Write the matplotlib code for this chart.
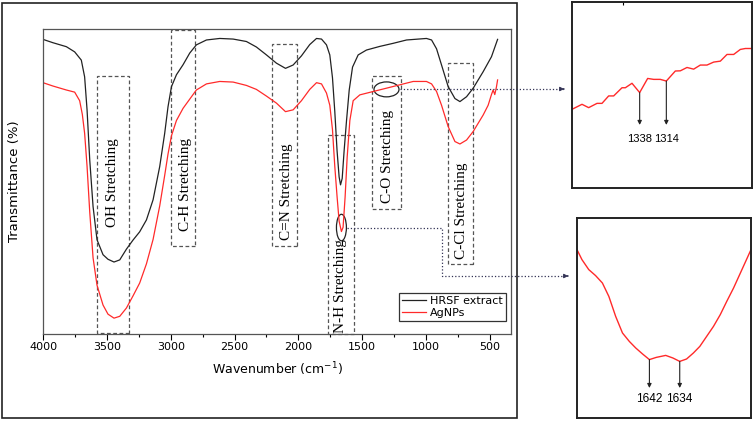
import matplotlib.pyplot as plt
import numpy as np
from matplotlib.patches import Rectangle, Ellipse

# main spectra (wavenumber, transmittance in arbitrary %)
wn_hrsf = [4000, 3922, 3817, 3752, 3700, 3674, 3655, 3634, 3608, 3577, 3530, 3491, 3444, 3399,
           3347, 3295, 3243, 3190, 3138, 3086, 3047, 3021, 2994, 2955, 2903, 2851, 2799, 2720,
           2616, 2511, 2407, 2329, 2250, 2172, 2101, 2041, 1976, 1911, 1858, 1819, 1780, 1754,
           1733, 1715, 1697, 1681, 1670, 1657, 1642, 1623, 1602, 1576, 1532, 1467, 1362, 1258,
           1153, 997, 957, 918, 879, 827, 774, 735, 683, 631, 553, 488, 440]
t_hrsf = [96.6, 95.5, 94.2, 92.5, 89.8, 84.3, 73.5, 57.1, 41.8, 30.9, 26.0, 24.5, 23.6, 24.3,
          27.8, 30.8, 33.5, 37.4, 44.0, 54.9, 65.8, 74.5, 81.1, 85.0, 88.3, 92.1, 94.8, 96.4,
          96.9, 96.7, 95.9, 94.1, 91.5, 88.8, 87.1, 88.2, 91.2, 94.9, 96.9, 96.7, 94.8, 91.5,
          84.0, 73.0, 60.0, 51.5, 48.9, 51.0, 60.0, 70.0, 80.0, 87.5, 91.5, 93.1, 94.3, 95.3,
          96.4, 96.9, 96.4, 93.5, 88.2, 81.1, 77.2, 76.2, 77.8, 80.6, 86.0, 90.9, 96.6]

wn_ag = [4000, 3922, 3817, 3752, 3713, 3692, 3674, 3655, 3634, 3608, 3577, 3530, 3491, 3444,
         3399, 3347, 3295, 3243, 3190, 3138, 3086, 3047, 3021, 2994, 2955, 2903, 2851, 2799,
         2720, 2616, 2511, 2407, 2329, 2250, 2172, 2101, 2041, 1976, 1911, 1858, 1819, 1780,
         1754, 1733, 1715, 1697, 1681, 1663, 1650, 1634, 1618, 1597, 1571, 1519, 1415, 1310,
         1206, 1101, 997, 957, 918, 879, 827, 774, 735, 683, 631, 553, 514, 488, 475, 462, 449, 440]
t_ag = [82.4, 81.3, 80.0, 79.3, 76.5, 72.0, 65.8, 55.0, 40.0, 25.0, 16.0, 9.5, 6.5, 5.2,
        5.8, 8.5, 12.5, 16.7, 23.0, 31.0, 42.0, 52.0, 59.0, 65.0, 70.0, 74.0, 77.0, 80.0,
        82.0, 82.8, 82.6, 81.5, 80.2, 78.0, 75.7, 72.9, 73.5, 76.5, 80.2, 82.4, 82.0, 79.0,
        75.0, 67.0, 55.0, 45.0, 37.0, 33.6, 35.0, 45.0, 58.0, 70.0, 76.5, 78.4, 79.5, 80.6,
        81.7, 82.8, 82.8, 82.0, 79.5, 75.0, 68.0, 63.1, 62.3, 63.6, 66.4, 71.8, 75.0, 78.5,
        80.0, 78.5, 81.0, 83.3]

# band boxes: label, wn_left, wn_right, t_bottom, t_top, label_wn, label_t
bands = [("OH Stretching", 3577, 3329, 0.3, 84.6, 3459, 49.7),
         ("C-H Stretching", 2997, 2809, 28.9, 99.7, 2885, 49.0),
         ("C=N Stretching", 2206, 2007, 28.9, 95.1, 2094, 46.7),
         ("N-H Stretching", 1767, 1566, 0.0, 65.3, 1670, 15.6),
         ("C-O Stretching", 1420, 1193, 40.9, 84.6, 1302, 58.2),
         ("C-Cl Stretching", 832, 631, 22.9, 89.0, 722, 40.5)]

# inset 1: AgNPs around 1400-1240
wn_in1 = [1398.9, 1389.9, 1383.9, 1376.4, 1371.9, 1365.9, 1361.4, 1353.9, 1350.9, 1344.9,
          1338.0, 1330.8, 1325.4, 1319.4, 1314.0, 1305.9, 1301.4, 1295.4, 1289.4, 1283.4,
          1277.4, 1271.4, 1265.4, 1259.4, 1253.4, 1247.4, 1242.9, 1236.9]
t_in1 = [42.3, 45.0, 43.2, 45.5, 45.5, 49.5, 49.5, 53.9, 53.9, 56.3, 51.3, 58.9, 58.4, 58.4,
         57.5, 62.9, 63.0, 64.8, 63.9, 66.1, 66.1, 67.7, 68.2, 71.8, 71.8, 74.5, 75.0, 75.0]
peaks_in1 = [1338, 1314]

# inset 2: AgNPs around 1660-1615
wn_in2 = [1661.1, 1659.8, 1658.0, 1656.2, 1654.4, 1652.7, 1650.9, 1649.1, 1647.3, 1645.6,
          1643.8, 1642.0, 1640.2, 1637.7, 1635.8, 1634.0, 1632.2, 1630.4, 1628.7, 1626.9,
          1625.1, 1623.3, 1621.6, 1619.8, 1618.0, 1616.2, 1615.2]
t_in2 = [84.2, 79.2, 74.2, 71.2, 67.5, 60.8, 50.8, 42.5, 38.3, 35.0, 32.0, 29.2, 30.3, 31.3,
         30.0, 28.3, 29.5, 32.5, 35.8, 40.8, 45.8, 51.7, 58.3, 65.0, 72.5, 80.0, 84.2]
peaks_in2 = [1642, 1634]

red = '#ff2a2a'
W, H = 754, 421
fig = plt.figure(figsize=(W / 100, H / 100), dpi=100)

# pixel overlay for frames and connectors
over = fig.add_axes([0, 0, 1, 1], zorder=10)
over.set_xlim(0, W)
over.set_ylim(H, 0)
over.axis('off')
over.patch.set_alpha(0)

ax = fig.add_axes([43 / W, 87 / H, 468 / W, 305 / H])
ax.plot(wn_hrsf, t_hrsf, color='#222222', lw=0.9, label='HRSF extract')
ax.plot(wn_ag, t_ag, color=red, lw=0.9, label='AgNPs')
ax.set_xlim(4000, 335)
ax.set_ylim(0, 100)
ax.set_xticks(np.arange(4000, 499, -500))
ax.set_xticks(np.arange(3750, 399, -250), minor=True)
ax.tick_params(axis='x', labelsize=8, length=4, width=0.8, pad=2, direction='out')
ax.tick_params(axis='x', which='minor', length=2, width=0.8)
ax.set_yticks([])
for s in ax.spines.values():
    s.set_color('#555555')
    s.set_linewidth(0.9)
ax.set_xlabel('Wavenumber (cm$^{-1}$)', fontsize=9, labelpad=6)
ax.set_ylabel('Transmittance (%)', fontsize=9.5)
ax.yaxis.set_label_coords(-0.047, 0.5)

for name, x0, x1, y0, y1, lx, ly in bands:
    ax.add_patch(Rectangle((x1, y0), x0 - x1, y1 - y0, fill=False, ec='#555555',
                           lw=0.9, ls=(0, (3, 2)), clip_on=False))
    ax.text(lx, ly, name, rotation=90, ha='center', va='center',
            family='Liberation Serif', fontsize=11)

ax.add_patch(Ellipse((1310, 80.2), 196, 4.9, fill=False, ec='#222222', lw=0.9))
ax.add_patch(Ellipse((1663, 34.9), 78, 8.7, fill=False, ec='#222222', lw=0.9))

leg = ax.legend(loc='lower right', bbox_to_anchor=(0.989, 0.043), borderaxespad=0,
                fancybox=False, edgecolor='black', fontsize=8, handlelength=2.2,
                borderpad=0.3, labelspacing=0.15, handletextpad=0.3)
leg.get_frame().set_linewidth(0.9)

# outer frame of main panel
over.add_patch(Rectangle((2, 3), 515, 415, fill=False, ec='#222222', lw=1.2))

# connectors
over.plot([400, 563], [89, 89], color='#333355', lw=0.9, ls=':')
over.annotate('', xy=(567, 89), xytext=(561, 89),
              arrowprops=dict(arrowstyle='-|>', color='#333355', lw=0.8, mutation_scale=6))
over.plot([347, 442, 442, 566], [228, 228, 276, 276], color='#333355', lw=0.9, ls=':')
over.annotate('', xy=(571, 276), xytext=(565, 276),
              arrowprops=dict(arrowstyle='-|>', color='#333355', lw=0.8, mutation_scale=6))


def inset(rect, wn, t, peaks, y_tip, y_lab, fs):
    a = fig.add_axes(rect)
    a.plot(wn, t, color=red, lw=1.0)
    a.set_xlim(wn[0], wn[-1])
    a.set_ylim(0, 100)
    a.set_xticks([])
    a.set_yticks([])
    for s in a.spines.values():
        s.set_linewidth(1.4)
        s.set_color('#222222')
    for p in peaks:
        yp = np.interp(-p, -np.array(wn), t)
        a.annotate('', xy=(p, y_tip), xytext=(p, yp),
                   arrowprops=dict(arrowstyle='-|>', color='#222222', lw=0.8,
                                   mutation_scale=6, shrinkA=0, shrinkB=0))
        a.text(p, y_lab, str(p), ha='center', va='center', fontsize=fs,
               family='Liberation Sans')
    return a


ax1 = inset([572 / W, (H - 188) / H, 180 / W, 186 / H], wn_in1, t_in1, peaks_in1, 33.9, 26.5, 8)
ax1.set_xticks([1353])
ax1.tick_params(axis='x', bottom=False, top=True, labelbottom=False, length=2,
                direction='in', width=0.8)
inset([577 / W, (H - 418) / H, 174 / W, 200 / H], wn_in2, t_in2, peaks_in2, 15.0, 9.5, 8.5)

fig.savefig('out.png', dpi=100)
